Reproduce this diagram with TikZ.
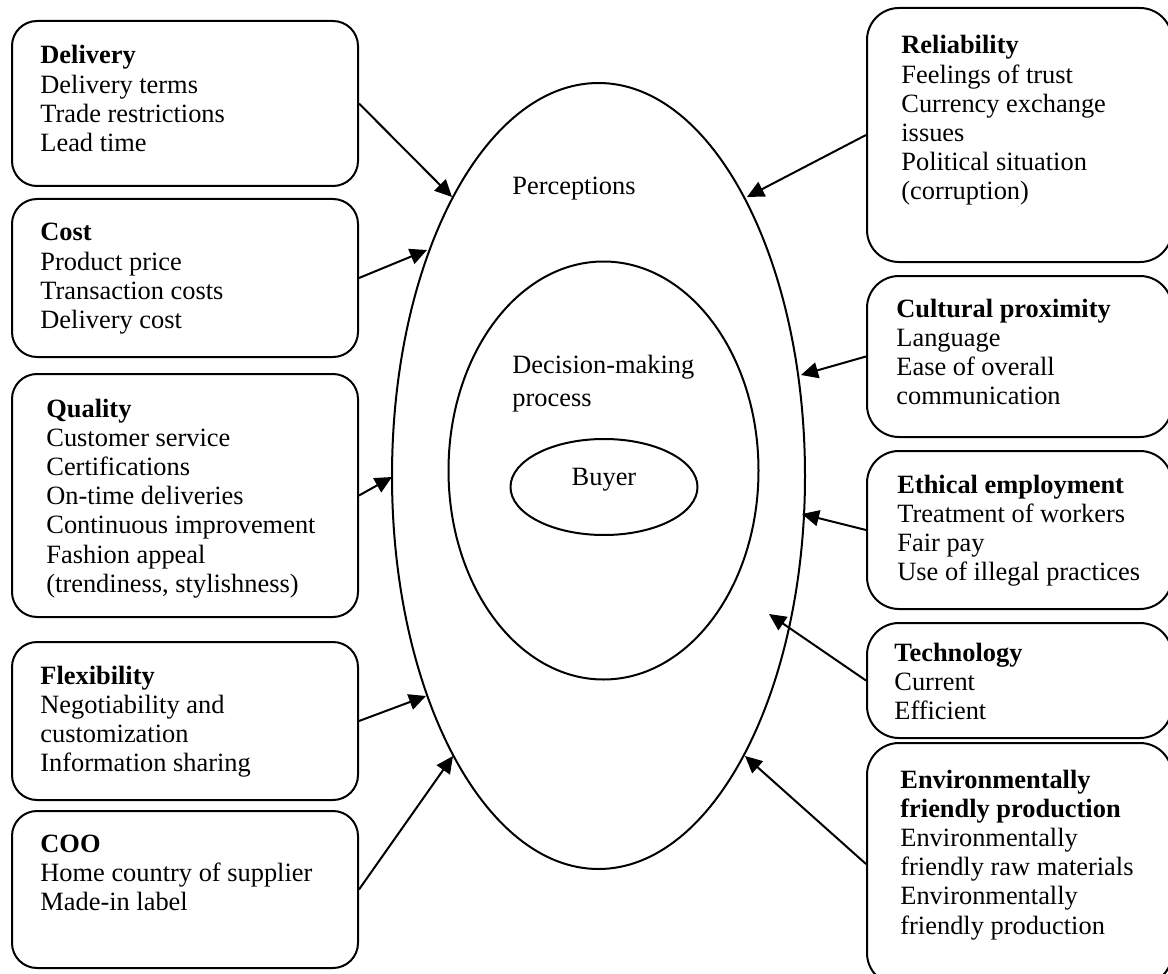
\documentclass[tikz,border=0pt]{standalone}
\usepackage{fontspec}
\setmainfont{Liberation Serif}
\usetikzlibrary{shapes.geometric,arrows.meta}

\newcommand{\boxtext}[1]{\fontsize{13.2}{14.6}\selectfont\begin{tabular}[t]{@{}l@{}}#1\end{tabular}}

\begin{document}
\begin{tikzpicture}[x=0.5pt,y=-0.5pt,
  factorbox/.style={draw, line width=1pt, rounded corners=12.5pt, inner sep=0pt},
  rightbox/.style={factorbox, rounded corners=16pt},
  ring/.style={draw, ellipse, line width=1pt, inner sep=0pt},
  label/.style={anchor=base west, inner sep=0pt, font=\fontsize{13.2}{14.6}\selectfont},
  txt/.style={anchor=base west, inner sep=0pt},
  arr/.style={-{Triangle[length=8.5pt,width=8pt]}, line width=1pt}]

\useasboundingbox (0,0) rectangle (1168,974);
\clip (0,0) rectangle (1168,974);

% nested ellipses
\node[ring, minimum width=206.5pt, minimum height=393pt] (outer) at (598.5,476) {};
\node[ring, minimum width=155pt, minimum height=209pt] (inner) at (603.5,470.5) {};
\node[ring, minimum width=93.5pt, minimum height=48pt] (buyer) at (604,487) {};

\node[label] (perc) at (512,195) {Perceptions};
\node[txt] (dmp) at (512,373) {\fontsize{13.2}{16.5}\selectfont\begin{tabular}[t]{@{}l@{}}Decision-making\\process\end{tabular}};
\node[label, anchor=base] (buyertxt) at (604,485) {Buyer};

% left column of factor boxes
\node[factorbox, minimum width=173pt, minimum height=82.5pt] (delivery) at (185,103.5) {};
\node[factorbox, minimum width=173pt, minimum height=79pt]   (cost)     at (185,278) {};
\node[factorbox, minimum width=173pt, minimum height=121.5pt] (quality) at (185,495.5) {};
\node[factorbox, minimum width=173pt, minimum height=79pt]   (flex)     at (185,721) {};
\node[factorbox, minimum width=173pt, minimum height=78.5pt] (coo)      at (185,889.5) {};

\node[txt] (tdelivery) at (40,64) {\boxtext{\textbf{Delivery}\\Delivery terms\\Trade restrictions\\Lead time}};
\node[txt] (tcost) at (40,241) {\boxtext{\textbf{Cost}\\Product price\\Transaction costs\\Delivery cost}};
\node[txt] (tquality) at (46,417) {\boxtext{\textbf{Quality}\\Customer service\\Certifications\\On-time deliveries\\Continuous improvement\\Fashion appeal\\(trendiness, stylishness)}};
\node[txt] (tflex) at (40,684) {\boxtext{\textbf{Flexibility}\\Negotiability and\\customization\\Information sharing}};
\node[txt] (tcoo) at (40,852) {\boxtext{\textbf{COO}\\Home country of supplier\\Made-in label}};

% right column of factor boxes
\node[rightbox, minimum width=152.5pt, minimum height=127pt]  (reliab)   at (1172-152.5,135) {};
\node[rightbox, minimum width=152.5pt, minimum height=80.5pt] (cultural) at (1172-152.5,356.5) {};
\node[rightbox, minimum width=152.5pt, minimum height=79pt]   (ethical)  at (1172-152.5,530) {};
\node[rightbox, minimum width=152.5pt, minimum height=57.5pt] (tech)     at (1172-152.5,680.5) {};
\node[rightbox, minimum width=152.5pt, minimum height=121pt]  (env)      at (1172-152.5,864) {};

\node[txt] (treliab) at (901,54) {\boxtext{\textbf{Reliability}\\Feelings of trust\\Currency exchange\\issues\\Political situation\\(corruption)}};
\node[txt] (tcultural) at (896,317) {\boxtext{\textbf{Cultural proximity}\\Language\\Ease of overall\\communication}};
\node[txt] (tethical) at (897,493) {\boxtext{\textbf{Ethical employment}\\Treatment of workers\\Fair pay\\Use of illegal practices}};
\node[txt] (ttech) at (894,661) {\boxtext{\textbf{Technology}\\Current\\Efficient}};
\node[txt] (tenv) at (900,788) {\boxtext{\textbf{Environmentally}\\\textbf{friendly production}\\Environmentally\\friendly raw materials\\Environmentally\\friendly production}};

% arrow targets on the perception ring
\coordinate (inDelivery) at (452,197);
\coordinate (inCost)     at (427,250);
\coordinate (inQuality)  at (392,477);
\coordinate (inFlex)     at (426,696);
\coordinate (inCoo)      at (453,756);
\coordinate (inReliab)   at (747,197);
\coordinate (inCultural) at (801,375);
\coordinate (inEthical)  at (802,514);
\coordinate (inTech)     at (769,614);
\coordinate (inEnv)      at (745,756);

\draw[arr] (delivery.east) -- (inDelivery);
\draw[arr] (cost.east) -- (inCost);
\draw[arr] (quality.east) -- (inQuality);
\draw[arr] (flex.east) -- (inFlex);
\draw[arr] (coo.east) -- (inCoo);
\draw[arr] (reliab.west) -- (inReliab);
\draw[arr] (cultural.west) -- (inCultural);
\draw[arr] (ethical.west) -- (inEthical);
\draw[arr] (tech.west) -- (inTech);
\draw[arr] (env.west) -- (inEnv);
\end{tikzpicture}
\end{document}
